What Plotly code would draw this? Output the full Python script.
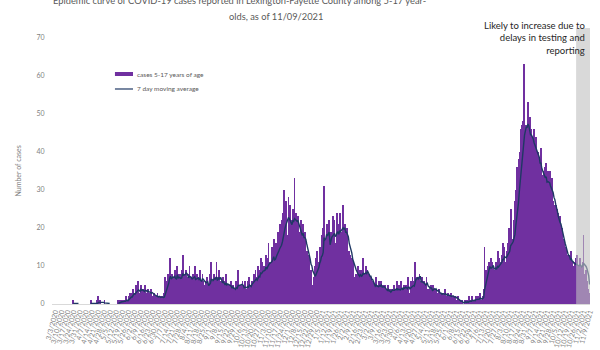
import pandas as pd
import plotly.graph_objects as go

# ---------------- data ----------------
start_date = "2020-02-29"
daily_cases = [
    0, 0, 0, 0, 0, 0, 0,
    0, 0, 0, 0, 0, 0, 0,
    0, 0, 0, 0, 0, 0, 0,
    0, 0, 0, 1, 0, 0, 0,
    0, 0, 0, 0, 0, 0, 0,
    0, 0, 0, 0, 0, 0, 0,
    0, 0, 1, 0, 0, 0, 0,
    0, 0, 1, 0, 2, 0, 1,
    0, 0, 0, 0, 1, 0, 0,
    0, 0, 0, 0, 0, 0, 0,
    0, 0, 0, 0, 0, 0, 1,
    1, 0, 1, 1, 0, 1, 1,
    1, 2, 1, 0, 2, 3, 2,
    3, 2, 4, 3, 1, 5, 3,
    4, 6, 3, 1, 5, 3, 4,
    3, 4, 5, 1, 3, 4, 3,
    2, 3, 4, 2, 1, 3, 2,
    1, 2, 3, 1, 2, 1, 2,
    2, 1, 3, 2, 7, 5, 6,
    8, 7, 12, 6, 2, 8, 7,
    7, 9, 8, 5, 10, 2, 8,
    6, 8, 9, 13, 7, 3, 8,
    9, 7, 6, 8, 10, 2, 7,
    6, 8, 7, 10, 5, 3, 8,
    7, 5, 9, 6, 4, 8, 6,
    5, 4, 6, 7, 5, 1, 8,
    7, 11, 6, 5, 8, 2, 7,
    11, 5, 7, 9, 4, 6, 3,
    5, 7, 4, 6, 8, 2, 5,
    4, 5, 3, 6, 4, 5, 2,
    4, 3, 6, 5, 9, 5, 2,
    5, 4, 6, 3, 5, 6, 2,
    4, 6, 5, 7, 3, 5, 6,
    6, 8, 5, 9, 7, 3, 10,
    9, 7, 12, 8, 11, 4, 10,
    10, 13, 8, 12, 16, 5, 11,
    11, 15, 12, 17, 10, 6, 16,
    14, 19, 16, 21, 13, 9, 22,
    24, 30, 20, 27, 18, 12, 28,
    22, 26, 18, 22, 25, 11, 33,
    20, 24, 17, 23, 19, 9, 22,
    19, 17, 21, 15, 19, 6, 14,
    13, 10, 13, 8, 9, 3, 5,
    7, 9, 10, 12, 14, 4, 11,
    15, 13, 18, 14, 20, 31, 7,
    17, 21, 15, 19, 22, 8, 19,
    19, 23, 17, 22, 16, 10, 24,
    21, 18, 24, 20, 19, 12, 26,
    18, 21, 16, 20, 15, 8, 14,
    13, 12, 12, 9, 11, 4, 7,
    8, 7, 10, 6, 9, 8, 3,
    9, 12, 8, 7, 10, 6, 9,
    6, 8, 5, 7, 4, 6, 2,
    5, 4, 7, 5, 3, 6, 4,
    4, 6, 3, 5, 4, 5, 1,
    3, 4, 5, 2, 4, 3, 4,
    4, 3, 5, 4, 3, 6, 1,
    5, 3, 4, 6, 4, 3, 5,
    4, 5, 3, 4, 7, 3, 2,
    6, 5, 7, 4, 6, 11, 7,
    6, 7, 5, 8, 6, 2, 7,
    5, 6, 4, 5, 7, 4, 2,
    4, 3, 5, 4, 3, 5, 4,
    3, 4, 2, 3, 4, 1, 3,
    3, 2, 3, 2, 4, 2, 1,
    2, 3, 2, 1, 3, 2, 2,
    2, 1, 2, 1, 1, 2, 0,
    0, 1, 0, 1, 0, 0, 1,
    1, 0, 1, 0, 2, 0, 1,
    1, 2, 0, 1, 1, 2, 1,
    2, 1, 1, 3, 0, 1, 2,
    4, 15, 8, 9, 7, 10, 11,
    9, 12, 8, 11, 10, 5, 9,
    11, 10, 14, 9, 12, 8, 11,
    13, 16, 12, 15, 11, 7, 14,
    16, 20, 14, 25, 15, 8, 17,
    22, 27, 30, 36, 33, 20, 38,
    40, 46, 47, 48, 63, 28, 46,
    47, 46, 53, 45, 49, 25, 46,
    44, 42, 46, 41, 44, 22, 39,
    40, 38, 35, 41, 34, 18, 35,
    36, 33, 37, 31, 35, 16, 35,
    30, 29, 33, 27, 26, 12, 26,
    25, 21, 24, 19, 23, 9, 20,
    16, 14, 17, 12, 15, 6, 13,
    12, 13, 10, 14, 11, 5, 10,
    11, 12, 9, 13, 10, 5, 12,
    10, 9, 11, 18, 8, 4, 9,
    6, 4, 3, 2,
]
series_names = ["cases 5-17 years of age", "7 day moving average"]
tick_start, tick_end = "2020-03-03", "2021-11-09"
pending_start, pending_end = "2021-10-25", "2021-11-09"
y_ticks = [0, 10, 20, 30, 40, 50, 60, 70]

title_line1 = "Epidemic curve of COVID-19 cases reported in Lexington-Fayette County among 5-17 year-"
title_line2 = "olds, as of 11/09/2021"
note_text = "Likely to increase due to<br>delays in testing and<br>reporting"
y_title = "Number of cases"

# ---------------- derived ----------------
dates = pd.date_range(start_date, periods=len(daily_cases), freq="D")
cases = pd.Series(daily_cases, index=dates, dtype=float)
roll_sum = cases.rolling(7).sum()
moving_avg = cases.rolling(7).mean().where(roll_sum > 0)

tick_dates = pd.date_range(tick_start, tick_end, freq="7D")
tick_labels = [f"{d.month}/{d.day}/{d.year}" for d in tick_dates]

FONT = "Lato"
GREY = "#7f7f7f"
BAR_COLOR = "#7030A0"
LINE_COLOR = "#1F3864"

fig = go.Figure()
fig.add_trace(go.Bar(
    x=dates, y=cases, name=series_names[0], showlegend=False,
    marker=dict(color=BAR_COLOR, line=dict(width=0)),
))
fig.add_trace(go.Scatter(
    x=dates, y=moving_avg, name=series_names[1], mode="lines", showlegend=False,
    line=dict(color=LINE_COLOR, width=1.4), connectgaps=False,
))

x0 = pd.Timestamp(start_date) - pd.Timedelta(hours=12)
x1 = dates[-1] + pd.Timedelta(hours=12)

shapes = [
    # pending-data band
    dict(type="rect", xref="x", yref="paper",
         x0=pd.Timestamp(pending_start) - pd.Timedelta(hours=12),
         x1=pd.Timestamp(pending_end) + pd.Timedelta(hours=12),
         y0=0, y1=1, fillcolor="#bfbfbf", opacity=0.6,
         line=dict(width=0), layer="above"),
    # legend symbols
    dict(type="rect", xref="paper", yref="paper", x0=0.117, x1=0.1506,
         y0=0.826, y1=0.8406, fillcolor=BAR_COLOR, line=dict(width=0)),
    dict(type="line", xref="paper", yref="paper", x0=0.117, x1=0.1506,
         y0=0.779, y1=0.779, line=dict(color=LINE_COLOR, width=1.2)),
]

annotations = [
    dict(text=title_line1, xref="paper", yref="paper", x=0.349, y=1.098,
         xanchor="center", yanchor="middle", showarrow=False,
         font=dict(size=9.3, color="#595959", family=FONT)),
    dict(text=title_line2, xref="paper", yref="paper", x=0.416, y=1.043,
         xanchor="center", yanchor="middle", showarrow=False,
         font=dict(size=9.3, color="#595959", family=FONT)),
    dict(text=note_text, xref="paper", yref="paper", x=0.9944, y=1.035,
         xanchor="right", yanchor="top", align="right", showarrow=False,
         font=dict(size=9.5, color="#262626", family=FONT)),
    dict(text=y_title, xref="paper", yref="paper", x=-0.065, y=0.48,
         xanchor="center", yanchor="middle", textangle=-90, showarrow=False,
         font=dict(size=7, color=GREY, family=FONT)),
    dict(text=series_names[0], xref="paper", yref="paper", x=0.155, y=0.833,
         xanchor="left", yanchor="middle", showarrow=False,
         font=dict(size=6.5, color="#595959", family=FONT)),
    dict(text=series_names[1], xref="paper", yref="paper", x=0.155, y=0.779,
         xanchor="left", yanchor="middle", showarrow=False,
         font=dict(size=6.5, color="#595959", family=FONT)),
]

fig.update_layout(
    width=600, height=350,
    margin=dict(l=52, r=10, t=28, b=46),
    paper_bgcolor="white", plot_bgcolor="white",
    bargap=0,
    font=dict(family=FONT, color="#595959"),
    showlegend=False,
    xaxis=dict(type="date", range=[x0, x1], tickmode="array",
               tickvals=tick_dates, ticktext=tick_labels, tickangle=-75,
               tickfont=dict(size=7, color=GREY), showgrid=False,
               showline=True, linecolor="#d9d9d9", linewidth=1,
               ticks="", zeroline=False, automargin=False),
    yaxis=dict(range=[0, 72.5], tickmode="array", tickvals=y_ticks,
               tickfont=dict(size=7, color=GREY), showgrid=False,
               showline=False, zeroline=False, ticks="outside",
               ticklen=5, tickcolor="rgba(0,0,0,0)", automargin=False),
    shapes=shapes,
    annotations=annotations,
)

fig.write_html("out.html")
